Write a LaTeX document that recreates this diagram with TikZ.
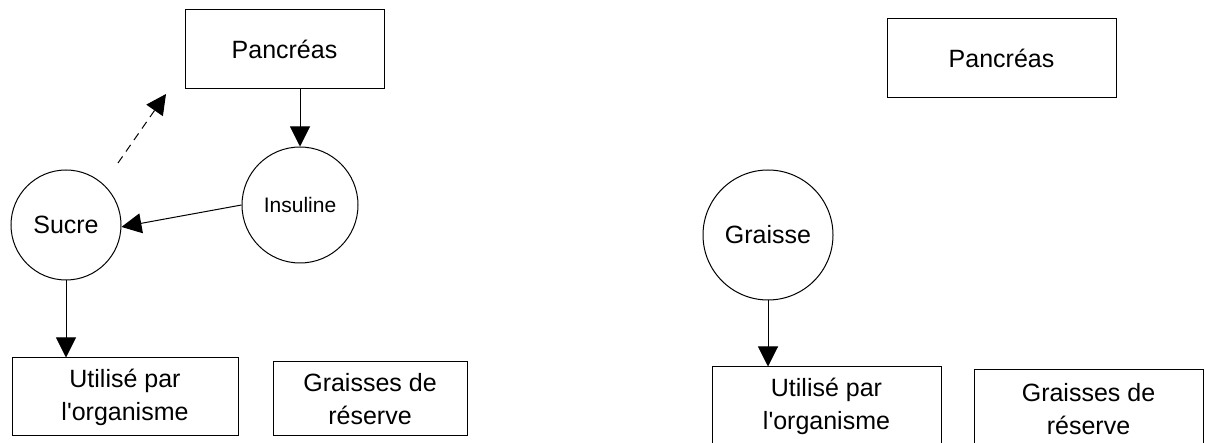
\documentclass[tikz,border=0pt]{standalone}
\usepackage{fontspec}
\setmainfont{Liberation Sans}
\usetikzlibrary{arrows.meta}

\tikzset{
  box/.style={draw, rectangle, inner sep=0pt, align=center,
              font=\fontsize{25}{33}\selectfont},
  rond/.style={draw, circle, inner sep=0pt,
               font=\fontsize{25}{30}\selectfont}
}

\begin{document}
\begin{tikzpicture}[
                    x=1pt, y=-1pt,
                    line width=1pt,
                    >={Triangle[length=20pt,width=20pt]}
                    ]

                    \clip (0,0) rectangle (1205,443);

                    % left side
                    \node [box, minimum width=199pt, minimum height=79pt] (lpanc) at (284.5,49.5) {Pancréas};
                    \node [rond, minimum size=116pt, font=\fontsize{21}{25}\selectfont] (insuline) at (300,205) {Insuline};
                    \node [rond, minimum size=110pt] (sucre) at (66,225) {Sucre};
                    \node [box, minimum width=226pt, minimum height=78pt] (lutil) at (125,397) {Utilisé par\\l\textquotesingle organisme};
                    \node [box, minimum width=194pt, minimum height=74pt] (lgrais) at (370,399) {Graisses de\\réserve};

                    \coordinate (dstart) at (118,163);
                    \coordinate (dend) at (166,94);

                    \draw[->] (insuline.north |- lpanc.south) -- (insuline.north);
                    \draw[->] (insuline.180) -- (sucre.-2);
                    \draw[->, dash pattern=on 8pt off 6pt] (dstart) -- (dend);
                    \draw[->] (sucre.south) -- (sucre.south |- lutil.north);

                    % right side
                    \node [box, minimum width=229pt, minimum height=79pt] (rpanc) at (1001.5,58.5) {Pancréas};
                    \node [rond, minimum size=130pt] (graisse) at (768,235) {Graisse};
                    \node [box, minimum width=229pt, minimum height=78pt] (rutil) at (826.5,406) {Utilisé par\\l\textquotesingle organisme};
                    \node [box, minimum width=229pt, minimum height=78pt] (rgrais) at (1088.5,409) {Graisses de\\réserve};

                    \draw[->] (graisse.south) -- (graisse.south |- rutil.north);
\end{tikzpicture}
\end{document}
